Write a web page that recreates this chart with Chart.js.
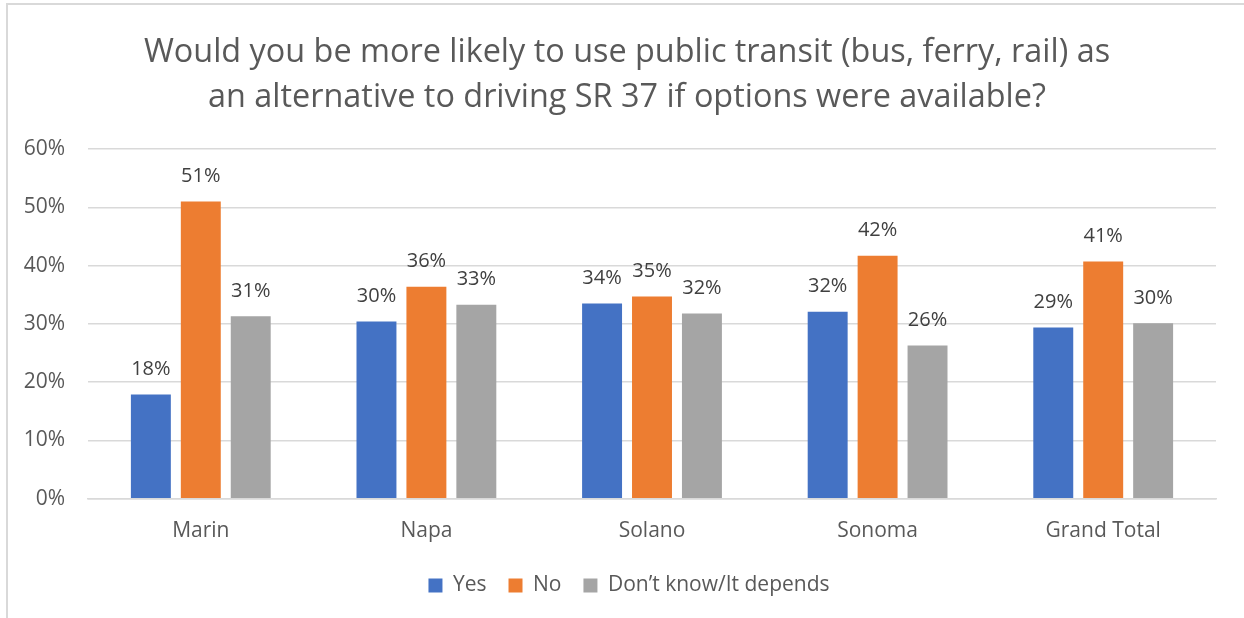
<!DOCTYPE html>
<html>
<head>
<meta charset="utf-8">
<script src="https://cdn.jsdelivr.net/npm/chart.js@4.4.0/dist/chart.umd.min.js"></script>
<style>
    html, body { margin: 0; padding: 0; background: #fff; }
    #wrap { position: relative; width: 1244px; height: 618px; overflow: hidden; }
    #frame { position: absolute; left: 6px; top: 3px; width: 1300px; height: 700px;
             border-left: 2px solid #d9d9d9; border-top: 2px solid #d9d9d9; }
    #grafico { position: absolute; left: 0; top: 0; }
</style>
</head>
<body>
<div id="wrap">
    <div id="frame"></div>
    <canvas id="grafico" width="1244" height="618"></canvas>
</div>
<script>
// Dados do gráfico
const condados = ['Marin', 'Napa', 'Solano', 'Sonoma', 'Grand Total'];
const sim = [17.9, 30.4, 33.5, 32.1, 29.4];
const nao = [51.0, 36.4, 34.7, 41.7, 40.7];
const depende = [31.3, 33.3, 31.8, 26.3, 30.1];
const rotulosSim = ['18%', '30%', '34%', '32%', '29%'];
const rotulosNao = ['51%', '36%', '35%', '42%', '41%'];
const rotulosDepende = ['31%', '33%', '32%', '26%', '30%'];
const titulo = [
    'Would you be more likely to use public transit (bus, ferry, rail) as',
    'an alternative to driving SR 37 if options were available?'
];

const fonte = "'Open Sans', 'DejaVu Sans', sans-serif";

// Plugin simples para escrever os valores acima das barras
const rotulosPlugin = {
    id: 'rotulos',
    afterDatasetsDraw(chart) {
        const ctx = chart.ctx;
        ctx.save();
        ctx.font = `20px ${fonte}`;
        ctx.fillStyle = '#404040';
        ctx.textAlign = 'center';
        ctx.textBaseline = 'middle';
        chart.data.datasets.forEach((ds, i) => {
            const meta = chart.getDatasetMeta(i);
            meta.data.forEach((bar, j) => {
                ctx.fillText(ds.rotulos[j], bar.x, bar.y - 25);
            });
        });
        ctx.restore();
    }
};

// No original o título e a legenda ficam centrados no quadro inteiro, não só na área do gráfico
const deslocaPlugin = {
    id: 'desloca',
    afterLayout(chart) {
        chart.titleBlock.left += 19;
        chart.titleBlock.right += 19;
        chart.legend.left += 21;
        chart.legend.right += 21;
    }
};

const ctx = document.getElementById('grafico').getContext('2d');
new Chart(ctx, {
    type: 'bar',
    data: {
        labels: condados,
        datasets: [
            { label: 'Yes', data: sim, rotulos: rotulosSim, backgroundColor: '#4472C4' },
            { label: 'No', data: nao, rotulos: rotulosNao, backgroundColor: '#ED7D31' },
            { label: 'Don\u2019t know/It depends', data: depende, rotulos: rotulosDepende, backgroundColor: '#A5A5A5' }
        ]
    },
    options: {
        responsive: false,
        animation: false,
        layout: { padding: { left: 0, right: 28, top: 0, bottom: 12 } },
        datasets: {
            bar: { categoryPercentage: 0.664, barPercentage: 0.8 }
        },
        plugins: {
            title: {
                display: true,
                text: titulo,
                color: '#595959',
                font: { family: fonte, size: 32.4, weight: 'normal', lineHeight: 1.39 },
                padding: { top: 30, bottom: 29 }
            },
            legend: {
                position: 'bottom',
                labels: {
                    boxWidth: 14,
                    boxHeight: 14,
                    padding: 22,
                    color: '#595959',
                    font: { family: fonte, size: 21 }
                }
            },
            tooltip: { enabled: false }
        },
        scales: {
            x: {
                grid: { display: false },
                border: { color: '#d9d9d9', width: 1.5 },
                afterFit: scale => { scale.height -= 3; },
                ticks: { color: '#595959', font: { family: fonte, size: 21 }, padding: 12 }
            },
            y: {
                min: 0,
                max: 60,
                afterFit: scale => { scale.width = 88; },
                grid: { color: '#d9d9d9', lineWidth: 1.5, drawTicks: false },
                border: { display: false },
                ticks: {
                    stepSize: 10,
                    padding: 23,
                    color: '#595959',
                    font: { family: fonte, size: 21 },
                    callback: valor => valor + '%'
                }
            }
        }
    },
    plugins: [rotulosPlugin, deslocaPlugin]
});
</script>
</body>
</html>
